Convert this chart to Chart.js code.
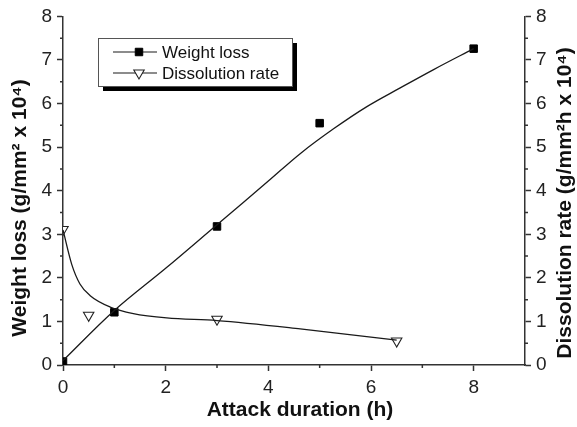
<!DOCTYPE html>
<html>
<head>
<meta charset="utf-8">
<script src="https://cdn.jsdelivr.net/npm/chart.js@4/dist/chart.umd.min.js"></script>
<style>
  html, body { margin: 0; padding: 0; background: #fff; }
  #wrap { width: 577px; height: 427px; }
</style>
</head>
<body>
<div id="wrap"><canvas id="chart" width="577" height="427"></canvas></div>
<script>
// measured points
const weightHours = [0, 1, 3, 5, 8];
const weightLoss = [0.08, 1.21, 3.18, 5.55, 7.26];
const dissHours = [0, 0.5, 3, 6.5];
const dissRate = [3.11, 1.14, 1.05, 0.55];

// fitted curves
const weightFitHours = [0, 1, 2, 3, 4, 4.62, 5.27, 5.92, 6.57, 7.22, 8];
const weightFit = [0.1, 1.25, 2.22, 3.22, 4.22, 4.85, 5.42, 5.93, 6.36, 6.78, 7.26];
const dissFitHours = [0, 0.17, 0.33, 0.53, 0.92, 1.37, 2.02, 3, 4.62, 6.5];
const dissFit = [3.1, 2.31, 1.86, 1.59, 1.33, 1.18, 1.08, 1.02, 0.83, 0.57];

const xLabels = [0, 2, 4, 6, 8];
const yLabels = [0, 1, 2, 3, 4, 5, 6, 7, 8];

const xTitle = "Attack duration (h)";
const yTitle = "Weight loss (g/mm\u00B2 x 10\u2074)";
const y2Title = "Dissolution rate (g/mm\u00B2h x 10\u2074)";

const FONT = "'Liberation Sans', Arial, sans-serif";
const INK = "#1a1a1a";

function toXY(xs, ys) {
    return xs.map((x, i) => ({ x: x, y: ys[i] }));
}

/* ---------- MINOR TICKS, TITLES, LEGEND ---------- */
const decorations = {
    id: "decorations",
    afterDraw(chart) {
        const ctx = chart.ctx;
        const { x, y, y2 } = chart.scales;
        ctx.save();
        ctx.strokeStyle = "#333";
        ctx.lineWidth = 1.5;

        // minor ticks (shorter)
        ctx.beginPath();
        for (let v = 1; v < 9; v += 2) {
            const px = x.getPixelForValue(v);
            ctx.moveTo(px, x.top);
            ctx.lineTo(px, x.top + 3);
        }
        for (let v = 0.5; v < 8; v += 1) {
            const py = y.getPixelForValue(v);
            ctx.moveTo(y.right, py);
            ctx.lineTo(y.right - 3, py);
            const py2 = y2.getPixelForValue(v);
            ctx.moveTo(y2.left, py2);
            ctx.lineTo(y2.left + 3, py2);
        }
        ctx.stroke();

        // axis titles
        ctx.fillStyle = "#111";
        ctx.font = "bold 21px " + FONT;
        ctx.textAlign = "center";
        ctx.textBaseline = "middle";
        ctx.fillText(xTitle, 300, 410);

        ctx.save();
        ctx.translate(20, 208);
        ctx.rotate(-Math.PI / 2);
        ctx.fillText(yTitle, 0, 0);
        ctx.restore();

        ctx.save();
        ctx.translate(565, 203);
        ctx.rotate(-Math.PI / 2);
        ctx.fillText(y2Title, 0, 0);
        ctx.restore();

        // legend box with drop shadow
        const bx = 98, by = 38, bw = 194, bh = 48;
        ctx.fillStyle = "#000";
        ctx.fillRect(bx + 5, by + 5, bw, bh);
        ctx.fillStyle = "#fff";
        ctx.fillRect(bx, by, bw, bh);
        ctx.strokeStyle = "#555";
        ctx.lineWidth = 1;
        ctx.strokeRect(bx + 0.5, by + 0.5, bw, bh);

        const rows = [
            { ds: chart.data.datasets[2], y: 52 },
            { ds: chart.data.datasets[3], y: 73 }
        ];
        rows.forEach(r => {
            ctx.strokeStyle = INK;
            ctx.lineWidth = 1.2;
            ctx.beginPath();
            ctx.moveTo(113, r.y);
            ctx.lineTo(157, r.y);
            ctx.stroke();
            ctx.fillStyle = r.ds.pointBackgroundColor;
            ctx.strokeStyle = r.ds.pointBorderColor;
            ctx.lineWidth = r.ds.pointBorderWidth;
            Chart.helpers.drawPoint(ctx, {
                pointStyle: r.ds.pointStyle,
                radius: r.ds.pointRadius,
                rotation: r.ds.pointRotation || 0,
                borderWidth: r.ds.pointBorderWidth
            }, 139, r.y);
            ctx.fillStyle = "#111";
            ctx.font = "17px " + FONT;
            ctx.textAlign = "left";
            ctx.fillText(r.ds.label, 162, r.y + 1);
        });
        ctx.restore();
    }
};

const tickFont = { family: FONT, size: 19 };

new Chart(document.getElementById("chart"), {
    type: "scatter",
    data: {
        datasets: [
            {
                label: "Weight loss fit",
                data: toXY(weightFitHours, weightFit),
                showLine: true,
                borderColor: INK,
                borderWidth: 1.3,
                pointRadius: 0,
                tension: 0.35,
                yAxisID: "y"
            },
            {
                label: "Dissolution fit",
                data: toXY(dissFitHours, dissFit),
                showLine: true,
                borderColor: INK,
                borderWidth: 1.3,
                pointRadius: 0,
                cubicInterpolationMode: "monotone",
                yAxisID: "y2"
            },
            {
                label: "Weight loss",
                data: toXY(weightHours, weightLoss),
                showLine: false,
                pointStyle: "rect",
                pointRadius: 5.3,
                pointBackgroundColor: "#000",
                pointBorderColor: "#000",
                pointBorderWidth: 1,
                yAxisID: "y"
            },
            {
                label: "Dissolution rate",
                data: toXY(dissHours, dissRate),
                showLine: false,
                pointStyle: "triangle",
                pointRotation: 180,
                pointRadius: 6,
                pointBackgroundColor: "#fff",
                pointBorderColor: "#222",
                pointBorderWidth: 1.1,
                yAxisID: "y2"
            }
        ]
    },
    options: {
        responsive: false,
        animation: false,
        layout: { padding: { top: 13, left: 0, right: 0, bottom: 0 } },
        plugins: { legend: { display: false }, tooltip: { enabled: false } },
        scales: {
            x: {
                type: "linear",
                min: 0,
                max: 9,
                afterFit: s => { s.height = 62; },
                afterBuildTicks: s => { s.ticks = xLabels.map(v => ({ value: v })); },
                ticks: { color: "#222", font: tickFont, padding: 5, autoSkip: false, maxRotation: 0 },
                grid: { drawOnChartArea: false, tickLength: 6, tickColor: "#333", tickWidth: 1.5 },
                border: { color: "#333", width: 1.5 }
            },
            y: {
                position: "left",
                min: 0,
                max: 8,
                afterFit: s => { s.width = 63; },
                afterBuildTicks: s => { s.ticks = yLabels.map(v => ({ value: v })); },
                ticks: { color: "#222", font: tickFont, padding: 5 },
                grid: { drawOnChartArea: false, tickLength: 6, tickColor: "#333", tickWidth: 1.5 },
                border: { color: "#333", width: 1.5 }
            },
            y2: {
                position: "right",
                min: 0,
                max: 8,
                afterFit: s => { s.width = 52; },
                afterBuildTicks: s => { s.ticks = yLabels.map(v => ({ value: v })); },
                ticks: { color: "#222", font: tickFont, padding: 5 },
                grid: { drawOnChartArea: false, tickLength: 6, tickColor: "#333", tickWidth: 1.5 },
                border: { color: "#333", width: 1.5 }
            }
        }
    },
    plugins: [decorations]
});
</script>
</body>
</html>
